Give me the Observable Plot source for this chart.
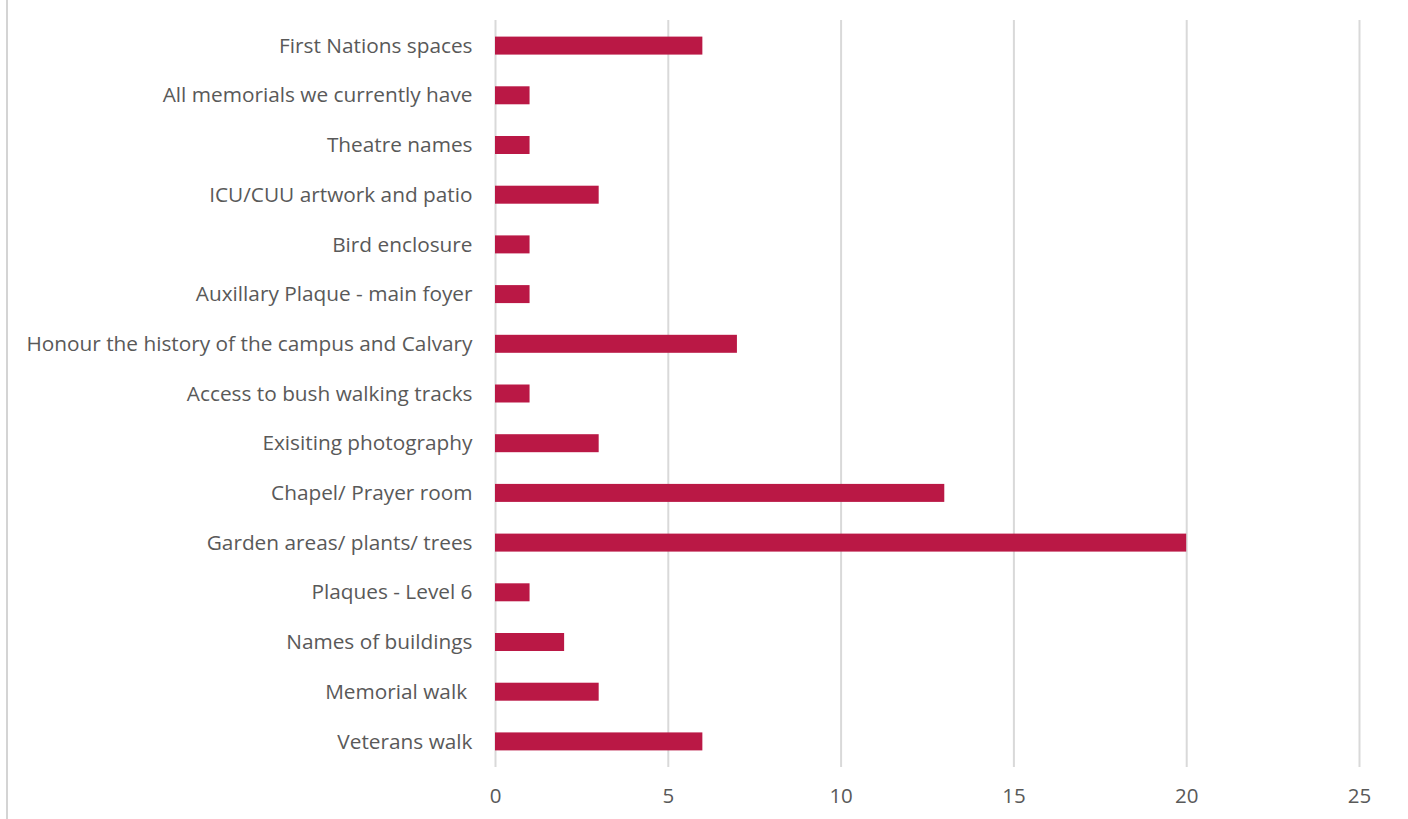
<!DOCTYPE html>
<html>
<head>
<meta charset="utf-8">
<script src="https://cdn.jsdelivr.net/npm/d3@7"></script>
<script src="https://cdn.jsdelivr.net/npm/@observablehq/plot@0.6"></script>
<style>
  html, body { margin: 0; padding: 0; background: #fff; }
  #wrap { position: relative; width: 1408px; height: 819px; overflow: hidden; }
  #border { position: absolute; left: 6px; top: 0; width: 2px; height: 819px; background: #d4d4d4; z-index: 2; }
</style>
</head>
<body>
<div id="wrap"><div id="border"></div></div>
<script>
const categories = [
  "First Nations spaces",
  "All memorials we currently have",
  "Theatre names",
  "ICU/CUU artwork and patio",
  "Bird enclosure",
  "Auxillary Plaque - main foyer",
  "Honour the history of the campus and Calvary",
  "Access to bush walking tracks",
  "Exisiting photography",
  "Chapel/ Prayer room",
  "Garden areas/ plants/ trees",
  "Plaques - Level 6",
  "Names of buildings",
  "Memorial walk ",
  "Veterans walk"
];
const values = [6, 1, 1, 3, 1, 1, 7, 1, 3, 13, 20, 1, 2, 3, 6];
const xTicks = [0, 5, 10, 15, 20, 25];

const data = categories.map((c, i) => ({category: c, value: values[i]}));

const chart = Plot.plot({
  width: 1408,
  height: 819,
  marginLeft: 495,
  marginRight: 49,
  marginTop: 20,
  marginBottom: 52,
  style: {fontFamily: "'Open Sans', sans-serif", fontSize: "20.8px", color: "#595959", background: "#fff"},
  x: {domain: [0, 25], ticks: xTicks, label: null},
  y: {domain: categories, paddingInner: 0.638, paddingOuter: 0.334, round: false, label: null},
  marks: [
    Plot.ruleX(xTicks, {stroke: "#d9d9d9", strokeWidth: 2}),
    Plot.barX(data, {x: "value", y: "category", fill: "#BA1845"}),
    Plot.axisX({ticks: xTicks, tickSize: 0, tickPadding: 21, fontSize: 20.5, fill: "#595959", label: null}),
    Plot.axisY({tickSize: 0, tickPadding: 23, fontSize: 20.8, fill: "#595959", label: null})
  ]
});
chart.style.position = "absolute";
chart.style.left = "0";
chart.style.top = "0";
chart.style.zIndex = "1";
document.getElementById("wrap").appendChild(chart);
</script>
</body>
</html>
